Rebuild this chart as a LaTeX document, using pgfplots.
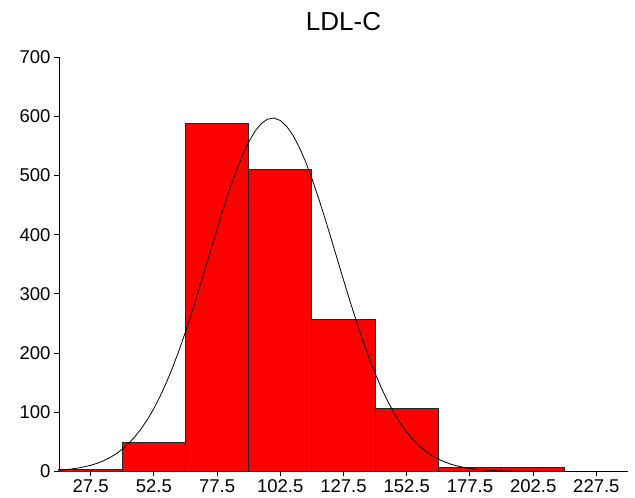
\documentclass[border=0pt]{standalone}
\usepackage{pgfplots}
\pgfplotsset{compat=1.18}
\usepackage{fontspec}
\setmainfont{Liberation Sans}
\begin{document}
\begin{tikzpicture}
\begin{axis}[
  name=ax,
  scale only axis,
  width=569pt, height=414.5pt,
  xmin=15, xmax=240, ymin=0, ymax=700,
  axis x line=bottom, axis y line=left,
  axis line style={-, line width=0.9pt},
  tick align=outside,
  major tick length=5pt,
  tick style={black, line width=0.9pt},
  xtick={27.5,52.5,77.5,102.5,127.5,152.5,177.5,202.5,227.5},
  xticklabels={27.5,52.5,77.5,102.5,127.5,152.5,177.5,202.5,227.5},
  ytick={0,100,...,700},
  /pgf/number format/assume math mode=true,
  ticklabel style={font=\fontsize{18.5}{21}\selectfont},
  title={LDL-C},
  title style={font=\fontsize{26}{30}\selectfont, at={(0.5,1)}, anchor=base, yshift=20pt},
  clip=false,
]
\addplot[ybar interval, fill=red, draw=none] coordinates {
(15,3) (40,49) (65,588) (90,510) (115,256) (140,107) (165,7) (190,7) (215,7)
};
\addplot[ybar interval, fill=none, draw=black!85, line width=1pt] coordinates {
(15,3) (40,49) (65,588) (90,510) (115,256) (140,107) (165,7) (190,7) (215,7)
};
\addplot[black, line width=0.8pt, no marks] coordinates {
(15,2.26) (17.5,3.12) (20,4.28) (22.5,5.81) (25,7.82) (27.5,10.41) (30,13.72) (32.5,17.91)
(35,23.15) (37.5,29.64) (40,37.58) (42.5,47.19) (45,58.66) (47.5,72.23) (50,88.05)
(52.5,106.3) (55,127.1) (57.5,150.5) (60,176.5) (62.5,204.9) (65,235.6) (67.5,268.3)
(70,302.5) (72.5,337.8) (75,373.5) (77.5,409.1) (80,443.6) (82.5,476.3) (85,506.6)
(87.5,533.5) (90,556.4) (92.5,574.6) (95,587.6) (97.5,595.1) (100,596.9) (102.5,592.8)
(105,583.1) (107.5,567.9) (110,547.7) (112.5,523.2) (115,494.8) (117.5,463.5) (120,429.9)
(122.5,394.9) (125,359.2) (127.5,323.6) (130,288.7) (132.5,255.0) (135,223.1) (137.5,193.2)
(140,165.8) (142.5,140.8) (145,118.5) (147.5,98.7) (150,81.4) (152.5,66.5) (155,53.8)
(157.5,43.1) (160,34.2) (162.5,26.9) (165,20.9) (167.5,16.1) (170,12.3) (172.5,9.29)
(175,6.95) (177.5,5.15) (180,3.78) (185,1.98) (190,0.99) (195,0.48) (200,0.22) (205,0.1)
};
\end{axis}
\path ([shift={(-59pt,-26.5pt)}]ax.south west) rectangle ([shift={(7pt,57pt)}]ax.north east);
\end{tikzpicture}
\end{document}
